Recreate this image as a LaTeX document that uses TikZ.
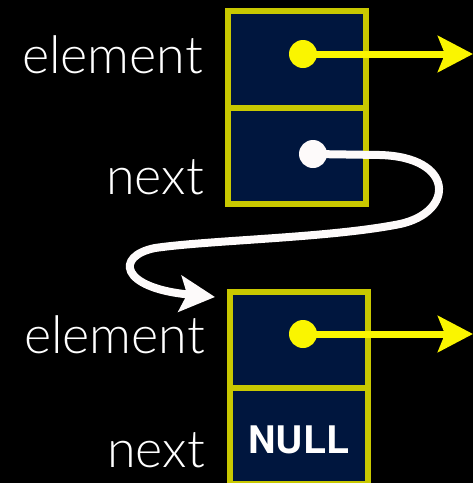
\documentclass[tikz,border=0pt]{standalone}
\usepackage{fontspec}
\setmainfont{TeX Gyre Heros}
\newfontfamily\lightfont{Lato Light}
\usetikzlibrary{arrows.meta}
\definecolor{navy}{RGB}{0,22,62}
\definecolor{olive}{RGB}{200,200,0}
\definecolor{ydot}{RGB}{250,245,0}
\definecolor{wcurve}{RGB}{253,250,250}
\tikzset{
  cell/.style={draw=olive, line width=6pt, fill=navy, rectangle, inner sep=0pt, minimum width=138pt},
  dot/.style={circle, inner sep=0pt, minimum size=28pt},
  lbl/.style={anchor=base east, text=white, inner sep=0pt, font=\lightfont\fontsize{52}{52}\selectfont},
  yarrow/.style={draw=ydot, line width=7pt, -{Stealth[length=35pt,width=36pt,inset=7pt]}},
  warrow/.style={draw=wcurve, line width=8pt, -{Stealth[length=35pt,width=36pt,inset=7pt]}},
}
\begin{document}
\begin{tikzpicture}[x=1pt,y=-1pt]
\fill[black] (0,0) rectangle (473,483);
\useasboundingbox (0,0) rectangle (473,483);
% cells
\node[cell, minimum height=97pt] (c1) at (297,59.5) {};
\node[cell, minimum height=96pt] (c2) at (297,156) {};
\node[cell, minimum height=96pt] (c3) at (299,340) {};
\node[cell, minimum height=96pt] (c4) at (299,436) {};
\node[text=white, font=\bfseries\fontsize{38}{38}\selectfont, inner sep=0pt, anchor=base] (null) at (299,453) {NULL};
% labels
\node[lbl] (l1) at (203,73) {element};
\node[lbl] (l2) at (204,194) {next};
\node[lbl] (l3) at (205,353) {element};
\node[lbl] (l4) at (205,467) {next};
% dots
\node[dot] (d1) at (303,54) {};
\node[dot] (d2) at (313,154) {};
\node[dot] (d3) at (303,334) {};
\coordinate (e1) at (473,54);
\coordinate (e3) at (473,334);
\coordinate (t) at (215,297);
% arrows
\draw[yarrow] (d1.center) -- (e1);
\draw[yarrow] (d3.center) -- (e3);
\draw[warrow] (d2.center) -- (380,155) .. controls (455,157) and (455,212) .. (400,224)
  .. controls (330,238) and (210,240) .. (155,248)
  .. controls (115,256) and (120,288) .. (t);
% dot fills
\fill[ydot] (d1) circle (14pt);
\fill[ydot] (d3) circle (14pt);
\fill[wcurve] (d2) circle (14pt);
\end{tikzpicture}
\end{document}
